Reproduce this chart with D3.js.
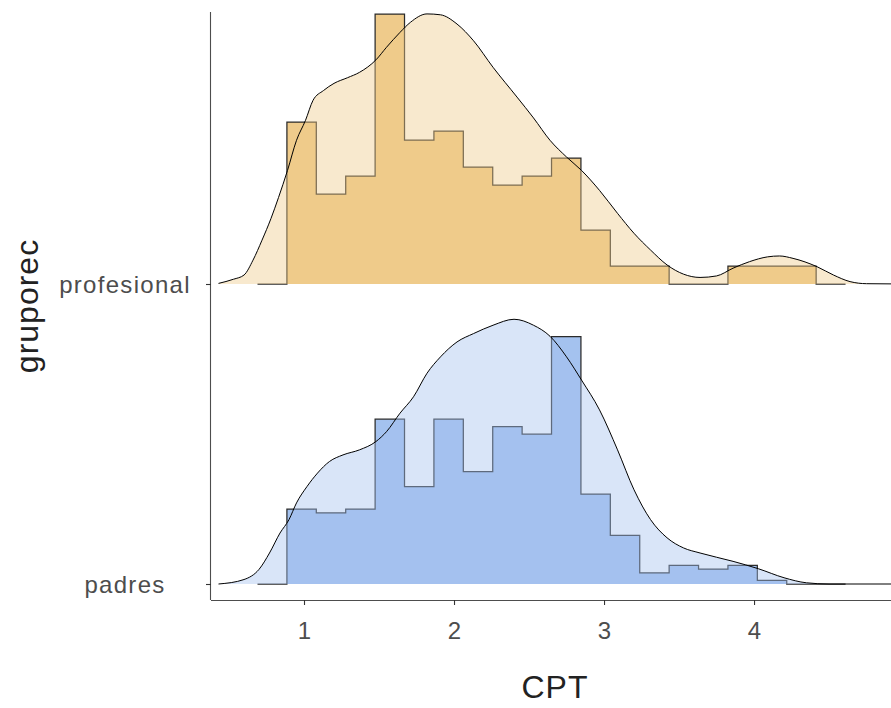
<!DOCTYPE html>
<html>
<head>
<meta charset="utf-8">
<script src="https://cdn.jsdelivr.net/npm/d3@7"></script>
<style>
  html, body { margin: 0; padding: 0; background: #ffffff; }
  svg { display: block; font-family: "Liberation Sans", Arial, sans-serif; }
</style>
</head>
<body>
<svg id="chart" width="891" height="708"></svg>
<script>
// Groups, bottom to top
const groups = ["padres", "profesional"];
const cptTicks = [1, 2, 3, 4];

// Histogram bins (CPT)
const binStart = 0.69;
const binWidth = 0.196;
const profesionalCounts = [0, 18, 10, 12, 30, 16, 17, 13, 11, 12, 14, 6, 2, 2, 0, 0, 2, 2, 2, 0];
const padresCounts = [0, 20, 19, 20, 44, 26, 44, 30, 42, 40, 66, 24, 13, 3, 5, 4, 5, 1, 0, 0];

// Kernel density estimates (CPT, density)
const profesionalDensityX = [0.43, 0.53, 0.60, 0.66, 0.72, 0.78, 0.83, 0.89, 0.95, 1.01, 1.06, 1.13, 1.20, 1.29, 1.37, 1.48, 1.55, 1.64, 1.71, 1.82, 1.91, 2.02, 2.13, 2.26, 2.42, 2.53, 2.64, 2.75, 2.85, 2.97, 3.09, 3.20, 3.31, 3.42, 3.53, 3.64, 3.75, 3.86, 3.97, 4.09, 4.17, 4.26, 4.42, 4.53, 4.64, 4.75, 5.00];
const profesionalDensity = [0.002, 0.016, 0.030, 0.080, 0.147, 0.220, 0.290, 0.381, 0.482, 0.549, 0.616, 0.649, 0.673, 0.692, 0.710, 0.752, 0.794, 0.844, 0.878, 0.906, 0.903, 0.872, 0.816, 0.727, 0.627, 0.557, 0.482, 0.426, 0.381, 0.314, 0.237, 0.170, 0.114, 0.064, 0.033, 0.022, 0.027, 0.053, 0.075, 0.091, 0.094, 0.086, 0.058, 0.030, 0.008, 0.001, 0];
const padresDensityX = [0.43, 0.60, 0.70, 0.77, 0.84, 0.90, 0.95, 1.02, 1.09, 1.17, 1.26, 1.37, 1.48, 1.55, 1.64, 1.73, 1.82, 1.91, 2.02, 2.13, 2.26, 2.40, 2.53, 2.64, 2.75, 2.85, 2.97, 3.09, 3.20, 3.31, 3.42, 3.53, 3.64, 3.86, 4.03, 4.20, 4.35, 4.50, 5.00];
const padresDensity = [0, 0.015, 0.049, 0.104, 0.171, 0.216, 0.272, 0.327, 0.372, 0.411, 0.433, 0.450, 0.478, 0.511, 0.573, 0.628, 0.707, 0.762, 0.812, 0.840, 0.868, 0.888, 0.868, 0.831, 0.762, 0.684, 0.584, 0.450, 0.316, 0.216, 0.155, 0.121, 0.104, 0.076, 0.051, 0.021, 0.004, 0, 0];

const palette = { profesional: "#EFCB8B", padres: "#A4C2EF" };

// ---- build series ----
function histDensity(counts) {
  const n = d3.sum(counts);
  return counts.map((c, i) => ({
    x0: binStart + i * binWidth,
    x1: binStart + (i + 1) * binWidth,
    d: c / (n * binWidth)
  }));
}
const series = {
  profesional: {
    bins: histDensity(profesionalCounts),
    dens: profesionalDensityX.map((x, i) => ({ x, d: profesionalDensity[i] }))
  },
  padres: {
    bins: histDensity(padresCounts),
    dens: padresDensityX.map((x, i) => ({ x, d: padresDensity[i] }))
  }
};

// ---- layout ----
const svg = d3.select("#chart");
const panel = { left: 211, right: 891, top: 12, bottom: 600 };

const x = d3.scaleLinear()
  .domain([0.38, 4.913])
  .range([panel.left, panel.right]);

const y = d3.scalePoint()
  .domain(groups)
  .range([584, 284]);

const step = 300;
const maxHist = d3.max(groups, g => d3.max(series[g].bins, b => b.d));
const h = d3.scaleLinear().domain([0, maxHist]).range([0, 0.9 * step]);

svg.append("defs").append("clipPath").attr("id", "panel-clip")
  .append("rect")
  .attr("x", panel.left).attr("y", 0)
  .attr("width", panel.right - panel.left).attr("height", panel.bottom);

const plot = svg.append("g").attr("clip-path", "url(#panel-clip)");

// draw top ridge first so lower ridges sit above it
["profesional", "padres"].forEach(g => {
  const base = y(g);
  const s = series[g];

  // histogram outline points (upper step line)
  const pts = [[s.bins[0].x0, 0]];
  s.bins.forEach(b => { pts.push([b.x0, b.d]); pts.push([b.x1, b.d]); });
  pts.push([s.bins[s.bins.length - 1].x1, 0]);

  const area = d3.area()
    .x(p => x(p[0]))
    .y0(base)
    .y1(p => base - h(p[1]));
  const line = d3.line()
    .x(p => x(p[0]))
    .y(p => base - h(p[1]));

  const grp = plot.append("g").attr("class", "ridge " + g);

  grp.append("path")
    .attr("d", area(pts))
    .attr("fill", palette[g]);
  grp.append("path")
    .attr("d", line(pts))
    .attr("fill", "none")
    .attr("stroke", "#2b2b2b")
    .attr("stroke-width", 1.25);

  // density ridge on top
  const dArea = d3.area()
    .x(p => x(p.x))
    .y0(base)
    .y1(p => base - h(p.d))
    .curve(d3.curveMonotoneX);
  const dLine = d3.line()
    .x(p => x(p.x))
    .y(p => base - h(p.d))
    .curve(d3.curveMonotoneX);

  grp.append("path")
    .attr("d", dArea(s.dens))
    .attr("fill", palette[g])
    .attr("fill-opacity", 0.42);
  grp.append("path")
    .attr("d", dLine(s.dens))
    .attr("fill", "none")
    .attr("stroke", "#000000")
    .attr("stroke-width", 1);
});

// ---- axes ----
const xAxis = svg.append("g")
  .attr("transform", `translate(0,${panel.bottom})`)
  .call(d3.axisBottom(x).tickValues(cptTicks).tickFormat(d3.format("d")).tickSize(5).tickPadding(17));
xAxis.select(".domain").attr("stroke", "#4d4d4d").attr("stroke-width", 1.1)
  .attr("d", `M${panel.left},0.5H${panel.right}`);
xAxis.selectAll(".tick line").attr("stroke", "#333333").attr("stroke-width", 1.1);
xAxis.selectAll(".tick text")
  .attr("fill", "#4d4d4d")
  .attr("font-size", 24)
  .attr("font-family", "Liberation Sans, Arial, sans-serif");

const yAxis = svg.append("g")
  .attr("transform", `translate(${panel.left},0)`)
  .call(d3.axisLeft(y).tickSize(5).tickPadding(0));
yAxis.select(".domain").attr("stroke", "#4d4d4d").attr("stroke-width", 1.1)
  .attr("d", `M-0.5,${panel.top}V${panel.bottom}`);
yAxis.selectAll(".tick line").attr("stroke", "#333333").attr("stroke-width", 1.1);
yAxis.selectAll(".tick text")
  .attr("fill", "#4d4d4d")
  .attr("font-size", 24)
  .attr("letter-spacing", 1.3)
  .attr("font-family", "Liberation Sans, Arial, sans-serif")
  .attr("text-anchor", "middle")
  .attr("x", 125 - panel.left)
  .attr("dy", "0.36em");

// ---- titles ----
svg.append("text")
  .attr("x", (panel.left + panel.right) / 2 + 4)
  .attr("y", 698)
  .attr("text-anchor", "middle")
  .attr("font-size", 32)
  .attr("letter-spacing", 1)
  .attr("fill", "#222222")
  .text("CPT");

svg.append("text")
  .attr("transform", `translate(38,${(panel.top + panel.bottom) / 2}) rotate(-90)`)
  .attr("text-anchor", "middle")
  .attr("font-size", 32)
  .attr("letter-spacing", 1)
  .attr("fill", "#222222")
  .text("gruporec");
</script>
</body>
</html>
